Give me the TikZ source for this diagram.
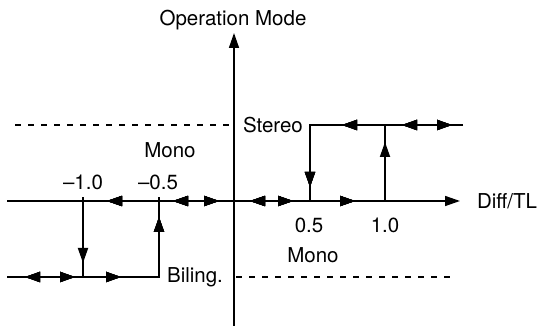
\documentclass[tikz,border=0pt]{standalone}
\usepackage{fontspec}
\setmainfont{TeX Gyre Heros}
\usetikzlibrary{arrows.meta,decorations.markings}
\begin{document}
\begin{tikzpicture}[x=1pt,y=1pt,
  lbl/.style={inner sep=0pt,font=\fontsize{20.5}{22}\selectfont},
  tri/.tip={Triangle[length=15pt,width=10pt]},
  axisline/.style={line width=1.5pt},
  hyst/.style={line width=1.8pt,line join=miter},
  refline/.style={line width=1.3pt,dash pattern=on 6pt off 7pt},
  fw/.style={postaction={decorate},decoration={markings,mark=at position #1 with {\arrow{tri}}}},
  bw/.style={postaction={decorate},decoration={markings,mark=at position #1 with {\arrowreversed{tri}}}}
]
\useasboundingbox (0,0) rectangle (541,328);
% coordinates
\coordinate (xl) at (7,127);
\coordinate (xr) at (460,127);
\coordinate (yb) at (234,2);
\coordinate (yt) at (234,295);
\coordinate (sdl) at (15,203);
\coordinate (sdr) at (232,203);
\coordinate (bdl) at (236,51);
\coordinate (bdr) at (455,51);
\coordinate (sr) at (463,203);
\coordinate (sc) at (310,203);
\coordinate (sb) at (310,127);
\coordinate (ub) at (385,127);
\coordinate (ut) at (385,203);
\coordinate (bl) at (7,51);
\coordinate (bc) at (159,51);
\coordinate (bt) at (159,127);
\coordinate (dt) at (83,127);
\coordinate (db) at (83,51);
\coordinate (t1a) at (83,131);
\coordinate (t2a) at (159,131);
% axes
\draw[axisline,-{tri}] (yb) -- (yt);
\draw[axisline,-{tri},bw=100pt,bw=166pt,fw=212pt,bw=243pt,fw=286pt,fw=348pt] (xl) -- (xr);
\draw[axisline] (dt) -- (t1a);
\draw[axisline] (bt) -- (t2a);
% dashed reference lines
\draw[refline] (sdl) -- (sdr);
\draw[refline] (bdl) -- (bdr);
% stereo branch
\draw[hyst,bw=11pt,fw=61pt,fw=121pt,fw=215pt] (sr) -- (sc) -- (sb);
\draw[hyst,fw=59pt] (ub) -- (ut);
% bilingual branch
\draw[hyst,bw=18pt,fw=68pt,fw=114pt,fw=212pt] (bl) -- (bc) -- (bt);
\draw[hyst,fw=62pt] (dt) -- (db);
% labels
\node[lbl] (om) at (233,308) {Operation Mode};
\node[lbl] (dtl) at (507,127) {Diff/TL};
\node[lbl] (st) at (273,203) {Stereo};
\node[lbl] (bi) at (195,51) {Biling.};
\node[lbl] (m1) at (170,178) {Mono};
\node[lbl] (m2) at (313,73) {Mono};
\node[lbl] (n10) at (83,146) {–1.0};
\node[lbl] (n05) at (158,146) {–0.5};
\node[lbl] (p05) at (309,103) {0.5};
\node[lbl] (p10) at (385,103) {1.0};
\end{tikzpicture}
\end{document}
